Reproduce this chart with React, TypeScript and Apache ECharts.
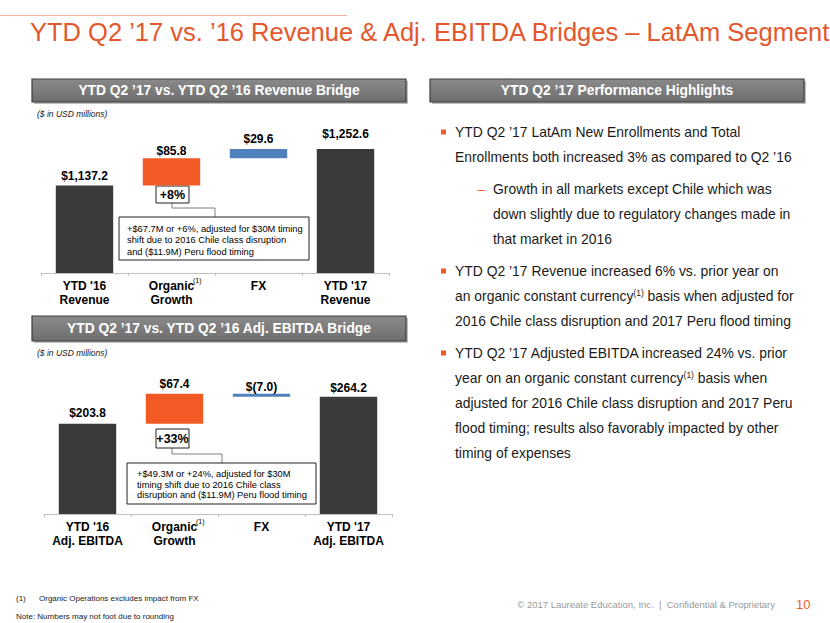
import React, { useEffect, useRef } from "react";
import * as echarts from "echarts";

// ---------- Data ----------
const revCategories = ["YTD '16\nRevenue", "Organic\nGrowth", "FX", "YTD '17\nRevenue"];
const revValues = [1137.2, 85.8, 29.6, 1252.6];
const revLabels = ["$1,137.2", "$85.8", "$29.6", "$1,252.6"];
const revGrowthPct = "+8%";
const revNote = [
  "+$67.7M or +6%, adjusted for $30M timing",
  "shift due to 2016 Chile class disruption",
  "and ($11.9M) Peru flood timing",
];

const ebitdaCategories = ["YTD '16\nAdj. EBITDA", "Organic\nGrowth", "FX", "YTD '17\nAdj. EBITDA"];
const ebitdaValues = [203.8, 67.4, -7.0, 264.2];
const ebitdaLabels = ["$203.8", "$67.4", "$(7.0)", "$264.2"];
const ebitdaGrowthPct = "+33%";
const ebitdaNote = [
  "+$49.3M or +24%, adjusted for $30M",
  "timing shift due to 2016 Chile class",
  "disruption and ($11.9M) Peru flood timing",
];

const FONT = "'Liberation Sans', Arial, sans-serif";
const DARK = "#3a3a3a";
const ORANGE = "#F15A24";
const BLUE = "#4F81BD";
const barColors = [DARK, ORANGE, BLUE, DARK];

function waterfall(values: number[]) {
  const base: number[] = [];
  const vis: number[] = [];
  let running = values[0];
  values.forEach((v, i) => {
    if (i === 0 || i === values.length - 1) {
      base.push(0);
      vis.push(v);
    } else {
      if (v >= 0) {
        base.push(running);
        vis.push(v);
      } else {
        base.push(running + v);
        vis.push(-v);
      }
      running += v;
    }
  });
  return { base, vis };
}

const revLabelGap = [3, 1, 4, 9];
const ebitdaLabelGap = [5, 4, 1, 3];

function makeSeries(values: number[], labels: string[], gaps: number[], idx: number, stack: string) {
  const { base, vis } = waterfall(values);
  return [
    {
      type: "bar",
      stack,
      xAxisIndex: idx,
      yAxisIndex: idx,
      barWidth: "66%",
      itemStyle: { color: "transparent" },
      silent: true,
      data: base,
    },
    {
      type: "bar",
      stack,
      xAxisIndex: idx,
      yAxisIndex: idx,
      barWidth: "66%",
      data: vis.map((v, i) => ({
        value: v,
        itemStyle: { color: barColors[i] },
        label: { distance: gaps[i] },
      })),
      label: {
        show: true,
        position: "top",
        fontFamily: FONT,
        fontWeight: "bold",
        fontSize: 12,
        color: "#000",
        formatter: (p: any) => labels[p.dataIndex],
      },
    },
  ];
}

const catAxis = (cats: string[], idx: number) => ({
  type: "category",
  gridIndex: idx,
  data: cats,
  axisLine: { lineStyle: { color: "#bfbfbf", width: 1 } },
  axisTick: { show: true, length: 3, lineStyle: { color: "#bfbfbf" } },
  axisLabel: {
    interval: 0,
    fontFamily: FONT,
    fontWeight: "bold",
    fontSize: 12,
    color: "#000",
    lineHeight: 14,
    margin: 6,
  },
});

const valAxis = (idx: number, min: number, max: number) => ({
  type: "value",
  gridIndex: idx,
  min,
  max,
  show: false,
  splitLine: { show: false },
});

function headerBox(x: number, y: number, w: number, h: number, text: string) {
  return {
    type: "group",
    children: [
      {
        type: "rect",
        shape: { x: x + 2, y: y + 2, width: w, height: h },
        style: { fill: "#bdbdbd" },
      },
      {
        type: "rect",
        shape: { x, y, width: w, height: h },
        style: {
          fill: new echarts.graphic.LinearGradient(0, 0, 0, 1, [
            { offset: 0, color: "#8a8a8a" },
            { offset: 1, color: "#6e6e6e" },
          ]),
          stroke: "#3c3c3c",
          lineWidth: 1.2,
        },
      },
      {
        type: "text",
        x: x + w / 2,
        y: y + h / 2,
        style: {
          text,
          fontFamily: FONT,
          fontWeight: "bold",
          fontSize: 13.8,
          fill: "#fff",
          align: "center",
          verticalAlign: "middle",
        },
      },
    ],
  };
}

function pctBox(x: number, y: number, w: number, h: number, text: string) {
  return [
    { type: "rect", shape: { x, y, width: w, height: h }, style: { fill: "#fff", stroke: "#222", lineWidth: 1 } },
    {
      type: "text",
      x: x + w / 2,
      y: y + h / 2 + 0.5,
      style: { text, fontFamily: FONT, fontWeight: "bold", fontSize: 12.5, fill: "#000", align: "center", verticalAlign: "middle" },
    },
  ];
}

function noteBox(x: number, y: number, w: number, h: number, lines: string[], tx: number, ty: number, lh: number) {
  return [
    { type: "rect", shape: { x, y, width: w, height: h }, style: { fill: "#fff", stroke: "#222", lineWidth: 1 } },
    {
      type: "text",
      x: tx,
      y: ty,
      style: { text: lines.join("\n"), fontFamily: FONT, fontSize: 9.3, lineHeight: lh, fill: "#000", align: "left", verticalAlign: "top" },
    },
  ];
}

const textBase = { fontFamily: FONT, fontSize: 13.9, fill: "#1a1a1a", verticalAlign: "middle" as const };
const supRich = {
  sup: { fontFamily: FONT, fontSize: 8.5, fill: "#1a1a1a", verticalAlign: "top" as const, padding: [0, 0, 7, 0] },
};

const bulletLines: { x: number; y: number; text: string }[] = [
  { x: 455, y: 132, text: "YTD Q2 ’17 LatAm New Enrollments and Total" },
  { x: 455, y: 157, text: "Enrollments both increased 3% as compared to Q2 ’16" },
  { x: 493, y: 189, text: "Growth in all markets except Chile which was" },
  { x: 493, y: 214, text: "down slightly due to regulatory changes made in" },
  { x: 493, y: 239, text: "that market in 2016" },
  { x: 455, y: 271, text: "YTD Q2 ’17 Revenue increased 6% vs. prior year on" },
  { x: 455, y: 296, text: "an organic constant currency{sup|(1)} basis when adjusted for" },
  { x: 455, y: 321, text: "2016 Chile class disruption and 2017 Peru flood timing" },
  { x: 455, y: 353, text: "YTD Q2 ’17 Adjusted EBITDA increased 24% vs. prior" },
  { x: 455, y: 378, text: "year on an organic constant currency{sup|(1)} basis when" },
  { x: 455, y: 403, text: "adjusted for 2016 Chile class disruption and 2017 Peru" },
  { x: 455, y: 428, text: "flood timing; results also favorably impacted by other" },
  { x: 455, y: 453, text: "timing of expenses" },
];
const bulletMarkers = [132, 271, 353];

export default function App() {
  const ref = useRef<HTMLDivElement>(null);
  useEffect(() => {
    if (!ref.current) return;
    const chart = echarts.init(ref.current, undefined, { renderer: "svg" });

    const graphics: any[] = [
      { type: "line", shape: { x1: 0, y1: 15.5, x2: 347, y2: 15.5 }, style: { stroke: "#F7B39A", lineWidth: 1.2 } },
      {
        type: "text",
        x: 30,
        y: 32,
        style: {
          text: "YTD Q2 ’17 vs. ’16 Revenue & Adj. EBITDA Bridges – LatAm Segment",
          fontFamily: FONT,
          fontSize: 25.5,
          fill: "#E4572C",
          verticalAlign: "middle",
        },
      },
      headerBox(32, 79, 374, 23, "YTD Q2 ’17 vs. YTD Q2 ’16 Revenue Bridge"),
      headerBox(430, 79, 374, 23, "YTD Q2 ’17 Performance Highlights"),
      headerBox(32, 316, 374, 25, "YTD Q2 ’17 vs. YTD Q2 ’16 Adj. EBITDA Bridge"),
      {
        type: "text",
        x: 37,
        y: 114,
        style: { text: "($ in USD millions)", fontFamily: FONT, fontSize: 8.5, fontStyle: "italic", fill: "#222", verticalAlign: "middle" },
      },
      {
        type: "text",
        x: 37,
        y: 353,
        style: { text: "($ in USD millions)", fontFamily: FONT, fontSize: 8.5, fontStyle: "italic", fill: "#222", verticalAlign: "middle" },
      },
      // revenue annotations
      { type: "polyline", shape: { points: [[172, 203], [172, 208], [215, 208], [215, 217]] }, style: { stroke: "#7f7f7f", lineWidth: 1, fill: null } },
      ...pctBox(156, 186, 33, 17, revGrowthPct),
      ...noteBox(119, 217, 190, 43, revNote, 127, 223, 11.5),
      { type: "text", x: 193, y: 280, style: { text: "(1)", fontFamily: FONT, fontSize: 7, fill: "#000", verticalAlign: "middle" } },
      // ebitda annotations
      { type: "polyline", shape: { points: [[172, 448], [172, 454], [222, 454], [222, 463]] }, style: { stroke: "#7f7f7f", lineWidth: 1, fill: null } },
      ...pctBox(156, 429, 33, 19, ebitdaGrowthPct),
      ...noteBox(127, 463, 189, 41, ebitdaNote, 137, 469, 10.5),
      { type: "text", x: 196, y: 521, style: { text: "(1)", fontFamily: FONT, fontSize: 7, fill: "#000", verticalAlign: "middle" } },
      // bullets
      ...bulletMarkers.map((y) => ({ type: "rect", shape: { x: 441, y: y - 2.5, width: 5, height: 5 }, style: { fill: ORANGE } })),
      { type: "text", x: 478, y: 189, style: { text: "–", fontFamily: FONT, fontSize: 13, fill: ORANGE, verticalAlign: "middle" } },
      ...bulletLines.map((l) => ({
        type: "text",
        x: l.x,
        y: l.y,
        style: { ...textBase, text: l.text, rich: supRich },
      })),
      // footer
      { type: "text", x: 16, y: 598, style: { text: "(1)", fontFamily: FONT, fontSize: 8, fill: "#222", verticalAlign: "middle" } },
      { type: "text", x: 39, y: 598, style: { text: "Organic Operations excludes impact from FX", fontFamily: FONT, fontSize: 8, fill: "#222", verticalAlign: "middle" } },
      { type: "text", x: 16, y: 616, style: { text: "Note: Numbers may not foot due to rounding", fontFamily: FONT, fontSize: 8, fill: "#222", verticalAlign: "middle" } },
      {
        type: "text",
        x: 775,
        y: 604,
        style: { text: "© 2017 Laureate Education, Inc.  |  Confidential & Proprietary", fontFamily: FONT, fontSize: 9.5, fill: "#9a9a9a", align: "right", verticalAlign: "middle" },
      },
      { type: "text", x: 796, y: 604, style: { text: "10", fontFamily: FONT, fontSize: 13, fill: ORANGE, verticalAlign: "middle" } },
    ];

    chart.setOption({
      animation: false,
      backgroundColor: "#fff",
      grid: [
        { left: 41, width: 348, top: 134, height: 139 },
        { left: 44, width: 348, top: 381, height: 133 },
      ],
      xAxis: [catAxis(revCategories, 0), catAxis(ebitdaCategories, 1)],
      yAxis: [valAxis(0, 860, 1300), valAxis(1, 0, 300)],
      series: [
        ...makeSeries(revValues, revLabels, revLabelGap, 0, "rev"),
        ...makeSeries(ebitdaValues, ebitdaLabels, ebitdaLabelGap, 1, "ebitda"),
      ],
      graphic: graphics,
    });
    return () => chart.dispose();
  }, []);
  return (
    <div
      ref={ref}
      style={{ position: "fixed", left: 0, top: 0, width: 830, height: 623, background: "#fff" }}
    />
  );
}
